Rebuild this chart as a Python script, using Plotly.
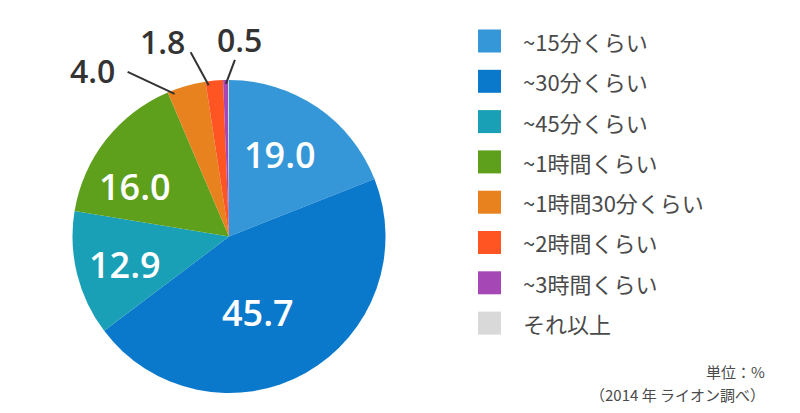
import math
import plotly.graph_objects as go

categories = ["~15分くらい", "~30分くらい", "~45分くらい", "~1時間くらい",
              "~1時間30分くらい", "~2時間くらい", "~3時間くらい", "それ以上"]
values = [19.0, 45.7, 12.9, 16.0, 4.0, 1.8, 0.5, 0.1]
colors = ["#3597d8", "#0a79cc", "#19a0b6", "#5e9f1c",
          "#e8821f", "#ff5523", "#a548b5", "#d9d9d9"]
note_unit = "単位：%"
note_source = "（2014 年 ライオン調べ）"

# page body has an 8px margin; figure is sized to fit the 800x413 window
OFF = 8
W, H = 800 - 2 * OFF, 413 - 2 * OFF


def fx(X):
    return (X - OFF) / W


def fy(Y):
    return 1 - (Y - OFF) / H


px0, px1, py0, py1 = 72, 386, 80, 393          # pie bounding box (window px)
dom_x = [fx(px0), fx(px1)]
dom_y = [fy(py1), fy(py0)]
cx, cy = (px0 + px1) / 2, (py0 + py1) / 2
R = min(px1 - px0, py1 - py0) / 2

NUM_FONT = "Open Sans"
JP_FONT = "Noto Sans CJK JP"
TEXT_COLOR = "#4a4a4a"

fig = go.Figure()
fig.add_trace(go.Pie(
    labels=categories,
    values=values,
    sort=False,
    direction="clockwise",
    rotation=0,
    marker=dict(colors=colors, line=dict(width=0)),
    textinfo="none",
    domain=dict(x=dom_x, y=dom_y),
    showlegend=False,
    hoverinfo="label+value",
))

annotations = []
shapes = []


def polar(angle_deg, rfrac):
    a = math.radians(angle_deg)
    return cx + rfrac * R * math.sin(a), cy - rfrac * R * math.cos(a)


# label placement styles: (angle offset from slice middle in deg, radius fraction)
inside_style = {0: (-2.2, 0.615), 1: (8.3, 0.52), 2: (-1.4, 0.69), 3: (-10.1, 0.68)}
# outside: (position within slice 0..1, line vector px, text offset px)
outside_style = {
    4: (0.15, (-47, -22), (-82, -23)),
    5: (0.15, (-18, -33), (-46, -44)),
    6: (0.55, (9, -24), (14, -44)),
}

total = sum(values)
cum = 0.0
for i, v in enumerate(values):
    a0 = cum / total * 360
    a1 = (cum + v) / total * 360
    cum += v
    mid = (a0 + a1) / 2
    if i in inside_style:
        da, rf = inside_style[i]
        tx, ty = polar(mid + da, rf)
        annotations.append(dict(
            x=fx(tx), y=fy(ty), xref="paper", yref="paper",
            text=f"{v:.1f}", showarrow=False, xanchor="center", yanchor="middle",
            font=dict(family=NUM_FONT, size=36, color="white", weight=600),
        ))
    elif i in outside_style:
        frac, (lx, ly), (ox, oy) = outside_style[i]
        hx, hy = polar(a0 + frac * (a1 - a0), 0.975)
        shapes.append(dict(
            type="line", xref="paper", yref="paper",
            x0=fx(hx), y0=fy(hy), x1=fx(hx + lx), y1=fy(hy + ly),
            line=dict(color="#333333", width=2),
        ))
        annotations.append(dict(
            x=fx(hx + ox), y=fy(hy + oy), xref="paper", yref="paper",
            text=f"{v:.1f}", showarrow=False, xanchor="center", yanchor="middle",
            font=dict(family=NUM_FONT, size=32, color="#333333", weight=600),
        ))

# legend (squares + labels)
lx0, lsz, ly0, lstep, ltx = 478, 23, 41, 40.3, 521
for i, (cat, col) in enumerate(zip(categories, colors)):
    yc = ly0 + lstep * i
    shapes.append(dict(
        type="rect", xref="paper", yref="paper",
        x0=fx(lx0), x1=fx(lx0 + lsz),
        y0=fy(yc + lsz / 2), y1=fy(yc - lsz / 2),
        fillcolor=col, line=dict(width=0),
    ))
    annotations.append(dict(
        x=fx(ltx), y=fy(yc), xref="paper", yref="paper",
        text=cat, showarrow=False, xanchor="left", yanchor="middle",
        font=dict(family=JP_FONT, size=22, color=TEXT_COLOR),
    ))

# notes
for txt, yy in ((note_unit, 371), (note_source, 394)):
    annotations.append(dict(
        x=fx(766), y=fy(yy), xref="paper", yref="paper", text=txt,
        showarrow=False, xanchor="right", yanchor="middle", borderpad=0,
        font=dict(family=JP_FONT, size=15, color=TEXT_COLOR),
    ))

fig.update_layout(
    width=W, height=H,
    margin=dict(l=0, r=0, t=0, b=0),
    paper_bgcolor="white", plot_bgcolor="white",
    annotations=annotations, shapes=shapes,
    showlegend=False,
)

fig.write_html("out.html")
